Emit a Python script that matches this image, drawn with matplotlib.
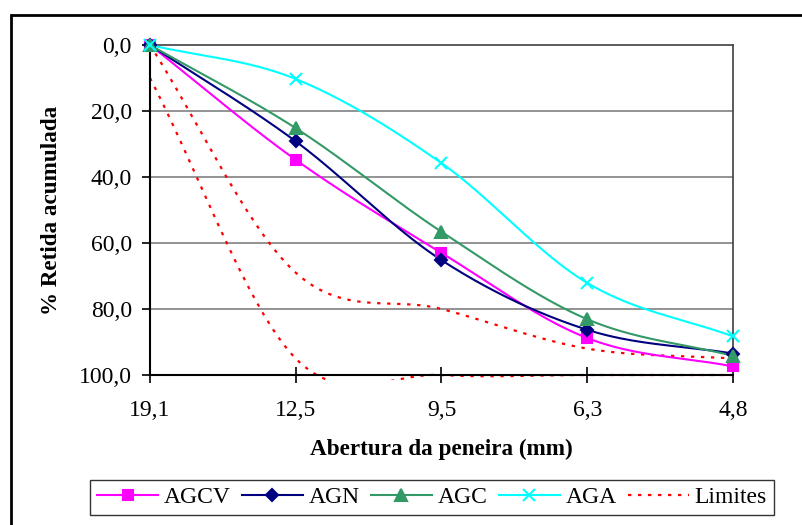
import numpy as np
import matplotlib.pyplot as plt
from matplotlib.patches import Rectangle

plt.rcParams['font.family'] = ['Liberation Serif', 'DejaVu Serif']

# Sieve openings (mm) and accumulated retained percentages
aberturas = ["19,1", "12,5", "9,5", "6,3", "4,8"]
agcv = [0.0, 34.8, 63.0, 88.8, 97.4]
agn = [0.0, 29.2, 65.2, 86.3, 93.5]
agc = [0.0, 25.2, 56.6, 83.1, 94.2]
aga = [0.0, 10.3, 35.8, 72.1, 88.3]
limite_sup = [0.0, 69.0, 80.0, 92.0, 95.0]
limite_inf = [10.0, 95.0, 100.0, 100.0, 100.0]


# Smoothed curve through the points (Catmull-Rom with reflected end points)
def smooth(y, n=40):
    y = np.asarray(y, dtype=float)
    pts = np.concatenate([[2 * y[0] - y[1]], y, [2 * y[-1] - y[-2]]])
    xs, ys = [], []
    for i in range(len(y) - 1):
        p0, p1, p2, p3 = pts[i], pts[i + 1], pts[i + 2], pts[i + 3]
        t = np.linspace(0, 1, n, endpoint=(i == len(y) - 2))
        m1 = (p2 - p0) / 2
        m2 = (p3 - p1) / 2
        h00 = 2 * t**3 - 3 * t**2 + 1
        h10 = t**3 - 2 * t**2 + t
        h01 = -2 * t**3 + 3 * t**2
        h11 = t**3 - t**2
        xs.append(i + t)
        ys.append(h00 * p1 + h10 * m1 + h01 * p2 + h11 * m2)
    return np.concatenate(xs), np.concatenate(ys)


fig = plt.figure(figsize=(8.03, 5.25), dpi=100)
ax = fig.add_axes([150 / 803, 1 - 375 / 525, 583 / 803, 330 / 525])

x = np.arange(len(aberturas))
series = [
    ("AGCV", agcv, "#FF00FF", "s", 7),
    ("AGN", agn, "#000080", "D", 6.5),
    ("AGC", agc, "#339966", "^", 8),
    ("AGA", aga, "#00FFFF", "x", 8),
]

# Limit curves, clipped just outside the plot area
clip = Rectangle((0, -0.015), 1, 1.03, transform=ax.transAxes, facecolor="none")
lim_lines = []
for i, lim in enumerate([limite_sup, limite_inf]):
    sx, sy = smooth(lim)
    ln, = ax.plot(sx, sy, color="#FF0000", lw=1.6, linestyle=(0, (1.5, 3)),
                  label="Limites" if i == 0 else None, zorder=2)
    ln.set_clip_path(clip)
    lim_lines.append(ln)

handles = []
for name, vals, color, marker, ms in series:
    sx, sy = smooth(vals)
    ax.plot(sx, sy, color=color, lw=1.5, zorder=3, clip_on=False)
    ax.plot(x, vals, linestyle="none", marker=marker, color=color, ms=ms,
            mew=1.5, zorder=4, clip_on=False)
    h, = ax.plot([], [], color=color, lw=1.5, marker=marker, ms=ms, mew=1.5, label=name)
    handles.append(h)
handles.append(lim_lines[0])

ax.set_xlim(0, len(aberturas) - 1)
ax.set_ylim(100, 0)
ax.set_xticks(x)
ax.set_xticklabels(aberturas, fontsize=17)
ax.set_yticks([0, 20, 40, 60, 80, 100])
ax.set_yticklabels(["0,0", "20,0", "40,0", "60,0", "80,0", "100,0"], fontsize=17)
ax.tick_params(axis="x", direction="inout", length=12, width=1.2, pad=12)
ax.tick_params(axis="y", direction="out", length=6, width=1.2, pad=7)

# Horizontal grid lines
for yv in [20, 40, 60, 80]:
    ax.axhline(yv, color="#808080", lw=1.2, zorder=1)

for side in ["top", "right"]:
    ax.spines[side].set_color("#404040")
    ax.spines[side].set_linewidth(1.2)
for side in ["left", "bottom"]:
    ax.spines[side].set_color("black")
    ax.spines[side].set_linewidth(1.5)

ax.set_xlabel("Abertura da peneira (mm)", fontsize=16.7, fontweight="bold", labelpad=13)
ax.set_ylabel("% Retida acumulada", fontsize=16.7, fontweight="bold", labelpad=12)

leg = fig.legend(handles=handles, loc="center", ncol=5, fontsize=17,
                 bbox_to_anchor=(432 / 803, 1 - 497.5 / 525), frameon=True,
                 fancybox=False, edgecolor="black", handlelength=2.6,
                 handletextpad=0.25, columnspacing=0.45, borderpad=0.3,
                 borderaxespad=0)
leg.get_frame().set_linewidth(1.0)

# Outer chart border
fig.patches.append(Rectangle((11 / 803, -0.1), 1.1, 1 - 15 / 525 + 0.1,
                             transform=fig.transFigure, fill=False,
                             edgecolor="black", lw=2.0))

fig.savefig("out.png", dpi=100)
